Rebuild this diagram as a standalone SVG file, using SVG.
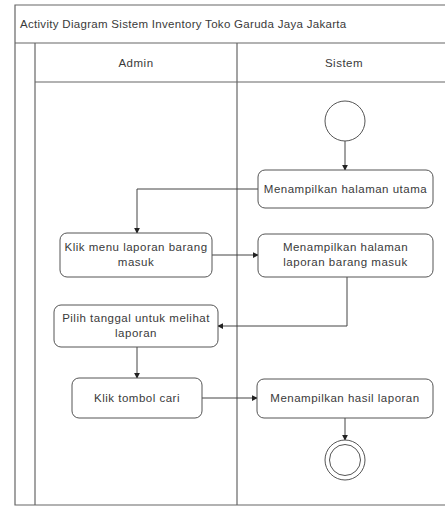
<svg xmlns="http://www.w3.org/2000/svg" width="445" height="506" viewBox="0 0 445 506">
  <style>
    .frame { fill: none; stroke: #666; stroke-width: 1.2; }
    .node rect { fill: #fff; stroke: #555; stroke-width: 1; }
    .node text, .lbl { font-family: "Liberation Sans", Arial, sans-serif; font-size: 11.5px; letter-spacing: 0.5px; fill: #3a3a3a; text-anchor: middle; }
    .title { font-family: "Liberation Sans", Arial, sans-serif; font-size: 11.5px; letter-spacing: 0.3px; fill: #3a3a3a; }
    .edge { fill: none; stroke: #444; stroke-width: 1; marker-end: url(#arrow); }
    .circ { fill: #fff; stroke: #555; stroke-width: 1; }
  </style>
  <defs>
    <marker id="arrow" viewBox="0 0 8 8" refX="7" refY="4" markerWidth="6" markerHeight="6" orient="auto" markerUnits="userSpaceOnUse">
      <path d="M0,0 L8,4 L0,8 z" fill="#222"/>
    </marker>
  </defs>
  <rect width="445" height="506" fill="#fff"/>

  <!-- swimlane frame -->
  <g id="pool">
    <path class="frame" d="M445,5 H15 V505 H445"/>
    <line class="frame" x1="15" y1="43" x2="445" y2="43"/>
    <line class="frame" x1="35" y1="43" x2="35" y2="505"/>
    <line class="frame" x1="35" y1="82" x2="445" y2="82"/>
    <line class="frame" x1="237" y1="43" x2="237" y2="505"/>
    <text class="title" x="20" y="28">Activity Diagram Sistem Inventory Toko Garuda Jaya Jakarta</text>
    <text class="lbl" x="136" y="67">Admin</text>
    <text class="lbl" x="344" y="67">Sistem</text>
  </g>

  <!-- connectors -->
  <g id="connectors">
    <path class="edge" d="M345,141 V170"/>
    <path class="edge" d="M258,189 H137 V233"/>
    <path class="edge" d="M212,255 H258"/>
    <path class="edge" d="M347,277 V326 H218"/>
    <path class="edge" d="M137,347 V378"/>
    <path class="edge" d="M202,398 H257"/>
    <path class="edge" d="M345,418 V440"/>
  </g>

  <g id="start">
    <circle class="circ" cx="345" cy="121" r="20"/>
  </g>

  <g id="n1" class="node">
    <rect x="258" y="170" width="175" height="38" rx="7"/>
    <text x="345.5" y="193">Menampilkan halaman utama</text>
  </g>

  <g id="n2" class="node">
    <rect x="60" y="233" width="152" height="44" rx="7"/>
    <text x="136" y="251">Klik menu laporan barang</text>
    <text x="136" y="266">masuk</text>
  </g>

  <g id="n3" class="node">
    <rect x="258" y="234" width="175" height="43" rx="7"/>
    <text x="345.5" y="251">Menampilkan halaman</text>
    <text x="345.5" y="266">laporan barang masuk</text>
  </g>

  <g id="n4" class="node">
    <rect x="54" y="305" width="164" height="42" rx="7"/>
    <text x="136" y="322">Pilih tanggal untuk melihat</text>
    <text x="136" y="337">laporan</text>
  </g>

  <g id="n5" class="node">
    <rect x="72" y="378" width="130" height="40" rx="7"/>
    <text x="137" y="402">Klik tombol cari</text>
  </g>

  <g id="n6" class="node">
    <rect x="257" y="379" width="176" height="39" rx="7"/>
    <text x="345" y="402">Menampilkan hasil laporan</text>
  </g>

  <g id="end">
    <circle class="circ" cx="345" cy="460" r="20"/>
    <circle class="circ" cx="345" cy="460" r="15.5"/>
  </g>
</svg>
